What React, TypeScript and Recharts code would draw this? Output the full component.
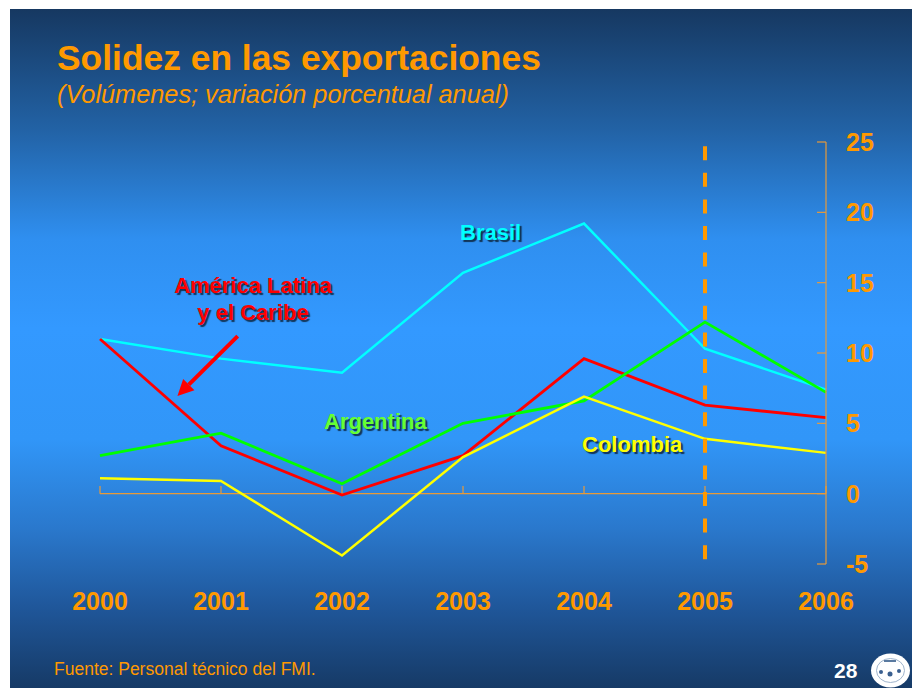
import React from "react";
import { LineChart, Line, XAxis, YAxis, ReferenceLine } from "recharts";

const years = [2000, 2001, 2002, 2003, 2004, 2005, 2006];
const brasil = [11.0, 9.6, 8.6, 15.7, 19.2, 10.3, 7.4];
const americaLatina = [11.0, 3.4, -0.1, 2.7, 9.6, 6.3, 5.4];
const argentina = [2.7, 4.3, 0.7, 5.0, 6.6, 12.2, 7.2];
const colombia = [1.1, 0.9, -4.4, 2.6, 6.9, 3.9, 2.9];
const yTicks = [-5, 0, 5, 10, 15, 20, 25];

const data = years.map((year, i) => ({
  year,
  brasil: brasil[i],
  lac: americaLatina[i],
  argentina: argentina[i],
  colombia: colombia[i],
}));

const FONT = "'Liberation Sans', Arial, Helvetica, sans-serif";
const ORANGE = "#FF9900";
const AXIS = "#E89A38";

const YTick = (props: any) => {
  const { x, y, payload } = props;
  return (
    <g>
      <line x1={x - 9} x2={x} y1={y} y2={y} stroke={AXIS} strokeWidth={1.2} />
      <text
        x={x + 20}
        y={y}
        dy="0.36em"
        textAnchor="start"
        fill={ORANGE}
        fontFamily={FONT}
        fontWeight="bold"
        fontSize={25}
      >
        {payload.value}
      </text>
    </g>
  );
};

const ArrowShape = (props: any) => {
  const { x1, y1, x2, y2 } = props;
  if (x1 == null) return null;
  const ang = Math.atan2(y2 - y1, x2 - x1);
  const L = 16;
  const W = 8;
  const bx = x2 - L * Math.cos(ang);
  const by = y2 - L * Math.sin(ang);
  const px = -Math.sin(ang) * W;
  const py = Math.cos(ang) * W;
  return (
    <g>
      <line x1={x1} y1={y1} x2={bx} y2={by} stroke="#FF0000" strokeWidth={4} />
      <polygon
        points={`${x2},${y2} ${bx + px},${by + py} ${bx - px},${by - py}`}
        fill="#FF0000"
      />
    </g>
  );
};

const labelStyle = (color: string): React.CSSProperties => ({
  position: "absolute",
  color,
  fontFamily: FONT,
  fontWeight: "bold",
  fontSize: 22,
  lineHeight: "27px",
  textShadow: "2px 2px 1px rgba(0,0,0,0.65)",
  whiteSpace: "nowrap",
});

export default function App() {
  return (
    <div
      style={{
        position: "absolute",
        left: 0,
        top: 0,
        width: 912,
        height: 688,
        background: "#ffffff",
        overflow: "hidden",
      }}
    >
      <div
        style={{
          position: "absolute",
          left: 10,
          top: 9,
          width: 902,
          height: 679,
          background:
            "linear-gradient(to bottom, #163861 0px, #2262a5 120px, #2f8ff0 230px, #3399ff 320px, #3196f8 430px, #2a78cc 520px, #1f5699 600px, #163a66 679px)",
        }}
      />
      <div
        style={{
          position: "absolute",
          left: 57,
          top: 38,
          color: ORANGE,
          fontFamily: FONT,
          fontWeight: "bold",
          fontSize: 35.4,
          whiteSpace: "nowrap",
        }}
      >
        Solidez en las exportaciones
      </div>
      <div
        style={{
          position: "absolute",
          left: 57,
          top: 80,
          color: ORANGE,
          fontFamily: FONT,
          fontStyle: "italic",
          fontSize: 25.3,
          whiteSpace: "nowrap",
        }}
      >
        (Volúmenes; variación porcentual anual)
      </div>
      <div style={{ position: "absolute", left: 0, top: 0 }}>
        <LineChart
          width={912}
          height={688}
          data={data}
          margin={{ top: 142, right: 26, bottom: 74, left: 100 }}
        >
          <XAxis
            dataKey="year"
            type="number"
            domain={[2000, 2006]}
            ticks={years}
            axisLine={false}
            tickLine={false}
            tickSize={0}
            tickMargin={28}
            height={50}
            tick={{ fill: ORANGE, fontFamily: FONT, fontWeight: "bold", fontSize: 25 }}
            allowDecimals={false}
          />
          <YAxis
            orientation="right"
            type="number"
            domain={[-5, 25]}
            ticks={yTicks}
            width={60}
            axisLine={{ stroke: AXIS, strokeWidth: 1.2 }}
            tickLine={false}
            tickSize={0}
            tickMargin={0}
            tick={<YTick />}
          />
          <ReferenceLine y={0} stroke={AXIS} strokeWidth={1.2} />
          {years.map((yr) => (
            <ReferenceLine
              key={yr}
              segment={[
                { x: yr, y: 0 },
                { x: yr, y: 0.55 },
              ]}
              stroke={AXIS}
              strokeWidth={1.2}
            />
          ))}
          <Line
            dataKey="brasil"
            stroke="#00FFFF"
            strokeWidth={2.5}
            dot={false}
            isAnimationActive={false}
          />
          <Line
            dataKey="lac"
            stroke="#FF0000"
            strokeWidth={2.8}
            dot={false}
            isAnimationActive={false}
          />
          <Line
            dataKey="argentina"
            stroke="#00FF00"
            strokeWidth={2.8}
            dot={false}
            isAnimationActive={false}
          />
          <Line
            dataKey="colombia"
            stroke="#FFFF00"
            strokeWidth={2.5}
            dot={false}
            isAnimationActive={false}
          />
          <ReferenceLine
            segment={[
              { x: 2005, y: 24.7 },
              { x: 2005, y: -4.75 },
            ]}
            stroke={ORANGE}
            strokeWidth={4}
            strokeDasharray="14 12.6"
          />
          <ReferenceLine
            segment={[
              { x: 2001.138, y: 11.2 },
              { x: 2000.64, y: 6.95 },
            ]}
            shape={<ArrowShape />}
          />
        </LineChart>
      </div>
      <div style={{ ...labelStyle("#FF0000"), left: 150, top: 272, width: 206, textAlign: "center" }}>
        América Latina
        <br />
        y el Caribe
      </div>
      <div style={{ ...labelStyle("#00FFFF"), left: 460, top: 219 }}>Brasil</div>
      <div style={{ ...labelStyle("#66FF33"), left: 324, top: 408 }}>Argentina</div>
      <div style={{ ...labelStyle("#FFFF00"), left: 582, top: 431 }}>Colombia</div>
      <div
        style={{
          position: "absolute",
          left: 54,
          top: 659,
          color: ORANGE,
          fontFamily: FONT,
          fontSize: 17.5,
          whiteSpace: "nowrap",
        }}
      >
        Fuente: Personal técnico del FMI.
      </div>
      <div
        style={{
          position: "absolute",
          left: 834,
          top: 659,
          color: "#ffffff",
          fontFamily: FONT,
          fontWeight: "bold",
          fontSize: 21,
        }}
      >
        28
      </div>
      <svg
        style={{ position: "absolute", left: 868, top: 652 }}
        width={44}
        height={36}
      >
        <ellipse cx={22.5} cy={18.5} rx={19.5} ry={17} fill="#ffffff" />
        <ellipse cx={22.5} cy={18.5} rx={14} ry={12} fill="none" stroke="#9fb4cc" strokeWidth={1} />
        <rect x={16} y={8} width={12} height={2} fill="#5a7aa0" />
        <circle cx={13} cy={20} r={2} fill="#3a5f8f" />
        <circle cx={22} cy={22} r={2.5} fill="#3a5f8f" />
        <circle cx={31} cy={19} r={2} fill="#3a5f8f" />
      </svg>
    </div>
  );
}
